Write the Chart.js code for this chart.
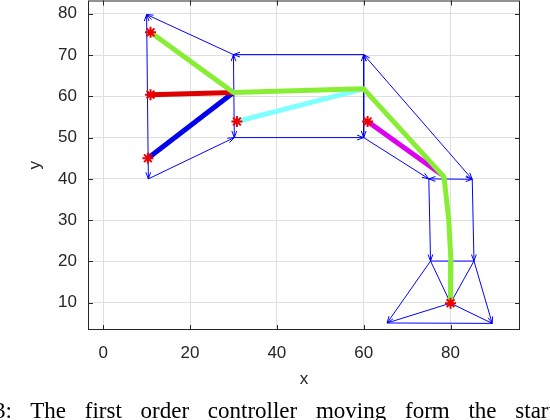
<!DOCTYPE html>
<html>
<head>
<meta charset="utf-8">
<script src="https://cdn.jsdelivr.net/npm/chart.js@4.4.0/dist/chart.umd.min.js"></script>
<style>
html, body { margin: 0; padding: 0; background: #fff; overflow: hidden; }
#wrap { position: relative; width: 550px; height: 420px; overflow: hidden; }
#robotChart { position: absolute; left: 0; top: -7px; }
#caption { position: absolute; left: -6px; top: 399px; font-family: "Liberation Serif", "Times New Roman", serif;
  font-size: 23px; line-height: 23px; white-space: nowrap; word-spacing: 13px; color: #000; }
</style>
</head>
<body>
<div id="wrap">
  <canvas id="robotChart" width="550" height="427"></canvas>
  <div id="caption">3: The first order controller moving form the start configuration</div>
</div>
<script>
var xTicks = [0, 20, 40, 60, 80];
var yTicks = [10, 20, 30, 40, 50, 60, 70, 80];

// start positions (red stars)
var startX = [10.9, 10.9, 10.3, 30.8, 60.9, 80.0];
var startY = [75.5, 60.4, 45.0, 53.9, 53.9, 9.9];

// thick links
var greenX = [10.9, 30.0, 60.0, 78.5, 79.6, 80.1, 80.0];
var greenY = [75.5, 60.9, 61.8, 40.5, 30.0, 20.0, 9.9];
var redX = [10.9, 30.0];
var redY = [60.4, 60.9];
var blueX = [10.3, 30.0];
var blueY = [45.0, 60.9];
var cyanX = [30.8, 60.0];
var cyanY = [53.9, 61.8];
var magentaX = [60.9, 78.0];
var magentaY = [53.9, 41.0];

// thin outline, null breaks the path
var frameX = [30.0, 10.0, 10.4, 30.2, null, 30.0, 30.2, null, 30.0, 60.0, 60.0, 30.2, null,
  60.0, 85.0, 85.4, 75.4, 75.0, 60.0, null, 75.0, 85.0, null, 75.4, 65.4, 89.6, 85.4, null,
  75.4, 80.0, 85.4, null, 65.4, 80.0, 89.6];
var frameY = [70.1, 79.8, 40.0, 50.0, null, 70.1, 50.0, null, 70.1, 70.1, 50.0, 50.0, null,
  70.1, 39.9, 20.1, 20.1, 40.0, 50.0, null, 40.0, 39.9, null, 20.1, 5.1, 5.0, 20.1, null,
  20.1, 9.9, 20.1, null, 5.1, 9.9, 5.0];

// quiver arrows: tail -> head
var arrowX0 = [30.0, 10.2, 10.2, 10.4, 30.1, 45.0, 30.1, 30.2, 60.0, 85.0, 60.0, 60.0, 85.0, 75.0, 60.0, 75.0, 85.0, 75.4, 85.4];
var arrowY0 = [70.1, 60.0, 60.0, 40.0, 60.0, 70.1, 60.0, 50.0, 60.0, 39.9, 60.0, 50.0, 39.9, 40.0, 70.1, 40.0, 39.9, 20.1, 20.1];
var arrowX1 = [10.0, 10.0, 10.4, 30.2, 30.0, 30.0, 30.2, 60.0, 60.0, 60.0, 60.0, 75.0, 75.0, 85.0, 85.0, 75.4, 85.4, 65.4, 89.6];
var arrowY1 = [79.8, 79.8, 40.0, 50.0, 70.1, 70.1, 50.0, 50.0, 70.1, 70.1, 50.0, 40.0, 40.0, 39.9, 39.9, 20.1, 20.1, 5.1, 5.0];

function pts(xs, ys) {
  return xs.map(function(x, i) { return { x: x, y: ys[i] }; });
}

function thick(label, xs, ys, color) {
  return { label: label, data: pts(xs, ys), showLine: true, borderColor: color, borderWidth: 5,
    pointRadius: 0, order: 2, borderJoinStyle: 'round' };
}

var tickFont = { family: '"Liberation Sans", Arial, sans-serif', size: 17 };

function noPad(s) {
  s.paddingTop = 0; s.paddingBottom = 0; s.paddingLeft = 0; s.paddingRight = 0;
}

var arrowHeads = {
  id: 'arrowHeads',
  afterDatasetDraw: function(chart, args) {
    if (args.index !== 0) return;
    var xs = chart.scales.x, ys = chart.scales.y, c = chart.ctx;
    c.save();
    c.strokeStyle = '#0000ff';
    c.lineWidth = 1;
    for (var i = 0; i < arrowX1.length; i++) {
      var x0 = xs.getPixelForValue(arrowX0[i]), y0 = ys.getPixelForValue(arrowY0[i]);
      var x1 = xs.getPixelForValue(arrowX1[i]), y1 = ys.getPixelForValue(arrowY1[i]);
      var a = Math.atan2(y1 - y0, x1 - x0);
      c.beginPath();
      c.moveTo(x1 - 7 * Math.cos(a - 0.35), y1 - 7 * Math.sin(a - 0.35));
      c.lineTo(x1, y1);
      c.lineTo(x1 - 7 * Math.cos(a + 0.35), y1 - 7 * Math.sin(a + 0.35));
      c.stroke();
    }
    c.restore();
  }
};

var boxFrame = {
  id: 'boxFrame',
  afterDraw: function(chart) {
    var a = chart.chartArea, c = chart.ctx;
    var xs = chart.scales.x, ys = chart.scales.y;
    c.save();
    c.strokeStyle = '#262626';
    c.lineWidth = 1;
    c.strokeRect(a.left + 0.5, a.top + 0.5, a.right - a.left - 1, a.bottom - a.top - 1);
    c.beginPath();
    xTicks.forEach(function(v) {
      var p = Math.round(xs.getPixelForValue(v)) + 0.5;
      c.moveTo(p, a.bottom); c.lineTo(p, a.bottom - 5);
      c.moveTo(p, a.top); c.lineTo(p, a.top + 5);
    });
    yTicks.forEach(function(v) {
      var p = Math.round(ys.getPixelForValue(v)) + 0.5;
      c.moveTo(a.left, p); c.lineTo(a.left + 5, p);
      c.moveTo(a.right, p); c.lineTo(a.right - 5, p);
    });
    c.stroke();
    c.restore();
  }
};

var ctx = document.getElementById('robotChart');
var robotChart = new Chart(ctx, {
  type: 'scatter',
  data: {
    datasets: [
      { label: 'links', data: pts(frameX, frameY), showLine: true, spanGaps: false, borderColor: '#0000ff',
        borderWidth: 1, pointRadius: 0, order: 3 },
      thick('green', greenX, greenY, '#88ee33'),
      thick('red', redX, redY, '#dd0000'),
      thick('blue', blueX, blueY, '#0000ee'),
      thick('cyan', cyanX, cyanY, '#80ffff'),
      thick('magenta', magentaX, magentaY, '#dd00ee'),
      { label: 'start', data: pts(startX, startY), pointStyle: 'star', pointRadius: 5.5,
        borderColor: '#ee0000', backgroundColor: '#ee0000', pointBorderWidth: 2, order: 1 }
    ]
  },
  options: {
    responsive: false,
    animation: false,
    layout: { padding: { top: 0, right: 30, left: 0, bottom: 0 } },
    plugins: { legend: { display: false }, tooltip: { enabled: false } },
    scales: {
      x: {
        type: 'linear', min: -3.5, max: 96,
        afterBuildTicks: function(s) { s.ticks = xTicks.map(function(v) { return { value: v }; }); },
        afterFit: function(s) { s.height = 90; noPad(s); },
        grid: { color: '#dfdfdf', drawTicks: false },
        border: { display: false },
        ticks: { font: tickFont, color: '#262626', padding: 13 },
        title: { display: true, text: 'x', font: tickFont, color: '#262626', padding: { top: 0, bottom: 30 } }
      },
      y: {
        type: 'linear', min: 3.4, max: 83.2,
        afterBuildTicks: function(s) { s.ticks = yTicks.map(function(v) { return { value: v }; }); },
        afterFit: function(s) { s.width = 88; noPad(s); },
        grid: { color: '#dfdfdf', drawTicks: false },
        border: { display: false },
        ticks: { font: tickFont, color: '#262626', padding: 11 },
        title: { display: true, text: 'y', font: tickFont, color: '#262626', padding: { top: 25, bottom: 0 } }
      }
    }
  },
  plugins: [arrowHeads, boxFrame]
});
</script>
</body>
</html>
